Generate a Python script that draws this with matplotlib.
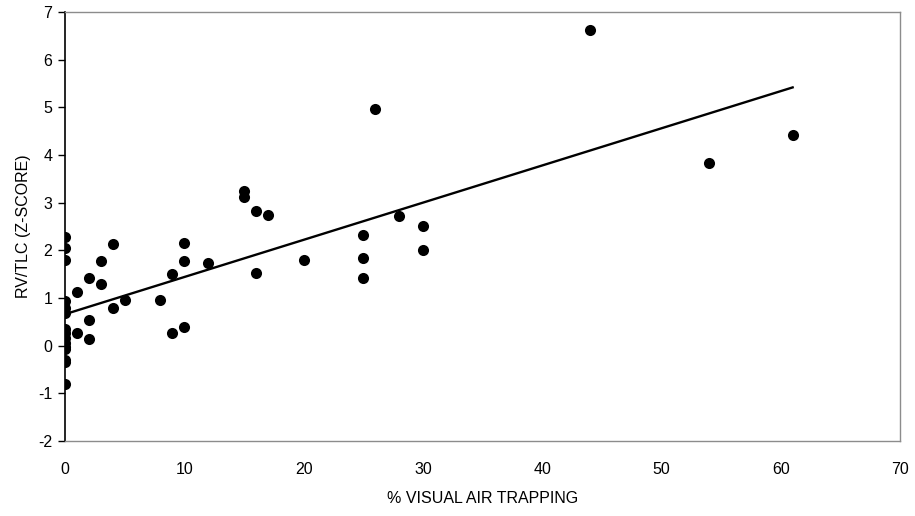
import numpy as np
import matplotlib
matplotlib.use("Agg")
import matplotlib.pyplot as plt

plt.rcParams['font.family'] = ['Liberation Sans', 'DejaVu Sans']
plt.rcParams['axes.unicode_minus'] = False

# % visual air trapping vs RV/TLC z-score
air_trapping = [0, 0, 0, 0, 0, 0, 0, 0, 0, 0, 0, 0, 0, 0, 0,
                1, 1, 2, 2, 2, 3, 3, 4, 4, 5, 8, 9, 9, 10, 10, 10,
                12, 15, 15, 16, 16, 17, 20, 25, 25, 25, 26, 28, 30, 30,
                44, 54, 61]
rv_tlc_z = [2.27, 2.04, 1.80, 0.94, 0.78, 0.68, 0.36, 0.26, 0.16, 0.05,
            -0.03, -0.08, -0.30, -0.35, -0.81,
            1.13, 0.26, 1.41, 0.54, 0.13, 1.78, 1.29, 2.13, 0.80, 0.96,
            0.96, 1.50, 0.27, 2.16, 1.78, 0.39,
            1.73, 3.25, 3.11, 2.83, 1.53, 2.74, 1.80, 2.33, 1.83, 1.41,
            4.97, 2.72, 2.52, 2.00,
            6.62, 3.84, 4.42]

# linear trend line
trend_intercept = 0.66
trend_slope = 0.078

x = np.array(air_trapping, dtype=float)
y = np.array(rv_tlc_z, dtype=float)

fig = plt.figure(figsize=(9.15, 5.16), dpi=100)
ax = fig.add_axes([65 / 915, 1 - 441 / 516, 835 / 915, 429 / 516])

ax.scatter(x, y, s=64, color='black', zorder=3, linewidths=0)
xs = np.array([x.min(), x.max()])
ax.plot(xs, trend_intercept + trend_slope * xs, color='black', lw=1.7, zorder=2)

ax.set_xlim(0, 70)
ax.set_ylim(-2, 7)
ax.set_xticks(np.arange(0, 71, 10))
ax.set_yticks(np.arange(-2, 8, 1))

for side in ('top', 'right', 'bottom'):
    ax.spines[side].set_color('#8c8c8c')
    ax.spines[side].set_linewidth(1.0)
ax.spines['left'].set_color('black')
ax.spines['left'].set_linewidth(1.2)

ax.tick_params(axis='y', direction='out', length=5, width=1, colors='black',
               labelsize=11.5, pad=4)
ax.tick_params(axis='x', length=0, labelsize=11.5, pad=15)

ax.set_xlabel('% VISUAL AIR TRAPPING', fontsize=11.5, labelpad=10)
ax.set_ylabel('RV/TLC (Z-SCORE)', fontsize=11.5, labelpad=5)

fig.savefig('out.png', dpi=100)
